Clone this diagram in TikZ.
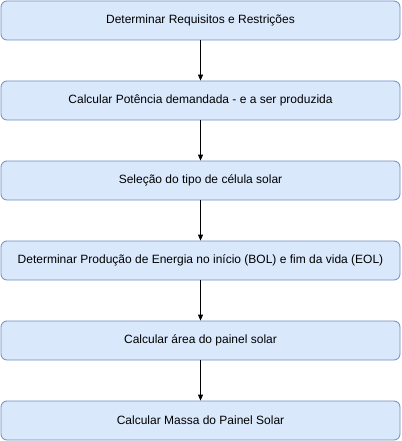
\documentclass[tikz,border=0pt]{standalone}
\usepackage{fontspec}
\setmainfont{Liberation Sans}
\usetikzlibrary{arrows.meta}
\definecolor{boxfill}{HTML}{DAE8FC}
\definecolor{boxline}{HTML}{6C8EBF}
\begin{document}
\begin{tikzpicture}[x=1pt,y=-1pt,
  stepbox/.style={draw=boxline,fill=boxfill,rounded corners=6pt,minimum width=399pt,minimum height=39pt,inner sep=0pt,font=\fontsize{12}{14}\selectfont,line width=0.8pt},
  conn/.style={-{Triangle[length=6pt,width=5pt]},line width=0.8pt}]
\useasboundingbox (0,0) rectangle (401,441);
\node[stepbox] (a) at (200.5,20.5) {Determinar Requisitos e Restrições};
\node[stepbox] (b) at (200.5,100.5) {Calcular Potência demandada - e a ser produzida};
\node[stepbox] (c) at (200.5,180.5) {Seleção do tipo de célula solar};
\node[stepbox] (d) at (200.5,260.5) {Determinar Produção de Energia no início (BOL) e fim da vida (EOL)};
\node[stepbox] (e) at (200.5,340.5) {Calcular área do painel solar};
\node[stepbox] (f) at (200.5,420.5) {Calcular Massa do Painel Solar};
\draw[conn] (a) -- (b);
\draw[conn] (b) -- (c);
\draw[conn] (c) -- (d);
\draw[conn] (d) -- (e);
\draw[conn] (e) -- (f);
\end{tikzpicture}
\end{document}
